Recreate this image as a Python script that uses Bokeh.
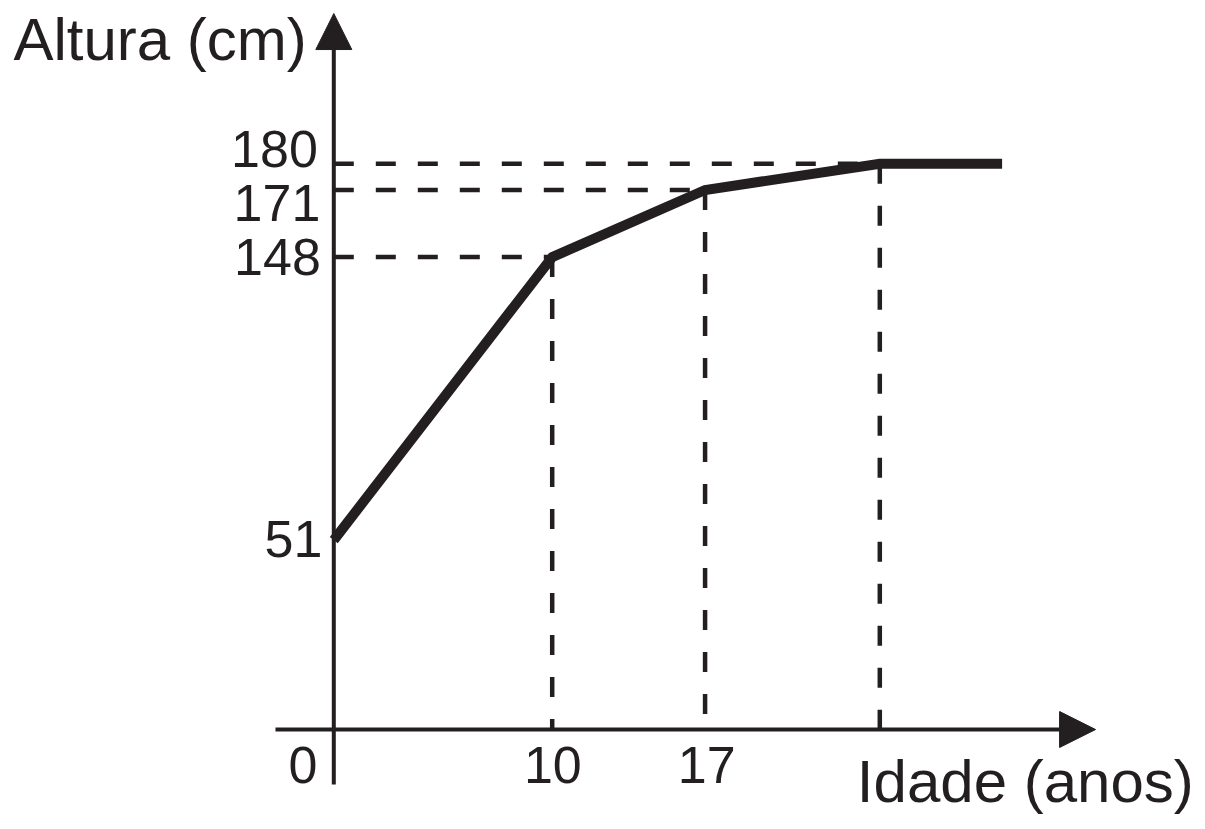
from bokeh.plotting import figure
from bokeh.models import Range1d, ColumnDataSource, Arrow, NormalHead
from bokeh.embed import file_html
from bokeh.resources import INLINE
from bokeh.core.properties import value

# ---------------- data ----------------
idade = [0, 10, 17, 25, 30.6]          # age (years)
altura = [51, 148, 171, 180, 180]      # height (cm)
guide_idade = [10, 17, 25]
guide_altura = [148, 171, 180]
y_tick_values = [180, 171, 148, 51]
y_tick_labels = ["180", "171", "148", "51"]
x_tick_values = [0, 10, 17]
x_tick_labels = ["0", "10", "17"]
y_title = "Altura (cm)"
x_title = "Idade (anos)"

# ---------------- layout / style ----------------
W, H = 1200, 826
X_RANGE = (-15.261, 39.684)
Y_RANGE = (-47.19, 235.97)
AXIS_BASE_Y = -13.94            # level where the horizontal axis is drawn
X_AXIS_FROM, X_AXIS_TO = -2.67, 34.88
Y_AXIS_FROM, Y_AXIS_TO = -32.8, 231.5
INK = "#231f20"
FONT = "Liberation Sans"
TICK_PX = 52
TITLE_PX = 60
BASE_FIX = -0.39                # baseline correction (in em) for svg text
y_label_dx = [-16.0, -13.5, -13.0, -11.5]
y_label_dy = [5.7, 33.2, 20.4, 19.4]
x_label_dx = [-30.8, 0.6, 1.7]
x_label_dy = 56
Y_TITLE_POS = (-14.67, 214.72)
X_TITLE_POS = (23.95, -39.65)

tick_fix = BASE_FIX * TICK_PX
title_fix = BASE_FIX * TITLE_PX

p = figure(width=W, height=H, x_range=Range1d(*X_RANGE), y_range=Range1d(*Y_RANGE),
           output_backend="svg", toolbar_location=None,
           x_axis_location=None, y_axis_location=None, min_border=0)
p.outline_line_color = None
p.background_fill_color = "white"
p.border_fill_color = "white"
for g in p.grid:
    g.visible = False

# dashed guides
p.segment(x0=[0] * len(guide_idade), y0=guide_altura, x1=guide_idade, y1=guide_altura,
          line_color=INK, line_width=4.5, line_dash="20 22", line_cap="butt")
p.segment(x0=guide_idade, y0=guide_altura, x1=guide_idade, y1=[AXIS_BASE_Y] * len(guide_idade),
          line_color=INK, line_width=4.5, line_dash="20 22", line_cap="butt")

# main curve
p.line(idade, altura, line_color=INK, line_width=10, line_join="miter", line_cap="butt")

# axes with arrows
p.add_layout(Arrow(end=NormalHead(size=36, fill_color=INK, line_color=INK, line_width=1),
                   x_start=0, y_start=Y_AXIS_FROM, x_end=0, y_end=Y_AXIS_TO,
                   line_color=INK, line_width=4))
p.add_layout(Arrow(end=NormalHead(size=36, fill_color=INK, line_color=INK, line_width=1),
                   x_start=X_AXIS_FROM, y_start=AXIS_BASE_Y, x_end=X_AXIS_TO, y_end=AXIS_BASE_Y,
                   line_color=INK, line_width=4))

# tick labels
ysrc = ColumnDataSource(dict(x=[0] * len(y_tick_values), y=y_tick_values, t=y_tick_labels,
                             dx=y_label_dx, dy=[d + tick_fix for d in y_label_dy]))
p.text(x="x", y="y", text="t", x_offset="dx", y_offset="dy", source=ysrc,
       text_font=value(FONT), text_font_size=value(f"{TICK_PX}px"), text_color=INK,
       text_align="right", text_baseline="alphabetic")

xsrc = ColumnDataSource(dict(x=x_tick_values, y=[AXIS_BASE_Y] * len(x_tick_values), t=x_tick_labels,
                             dx=x_label_dx, dy=[x_label_dy + tick_fix] * len(x_tick_values)))
p.text(x="x", y="y", text="t", x_offset="dx", y_offset="dy", source=xsrc,
       text_font=value(FONT), text_font_size=value(f"{TICK_PX}px"), text_color=INK,
       text_align="center", text_baseline="alphabetic")

# axis titles
p.text(x=[Y_TITLE_POS[0]], y=[Y_TITLE_POS[1]], text=[y_title], y_offset=title_fix,
       text_font=value(FONT), text_font_size=value(f"{TITLE_PX}px"), text_color=INK,
       text_align="left", text_baseline="alphabetic")
p.text(x=[X_TITLE_POS[0]], y=[X_TITLE_POS[1]], text=[x_title], y_offset=title_fix,
       text_font=value(FONT), text_font_size=value(f"{TITLE_PX}px"), text_color=INK,
       text_align="left", text_baseline="alphabetic")

open("out.html", "w").write(file_html(p, INLINE))
